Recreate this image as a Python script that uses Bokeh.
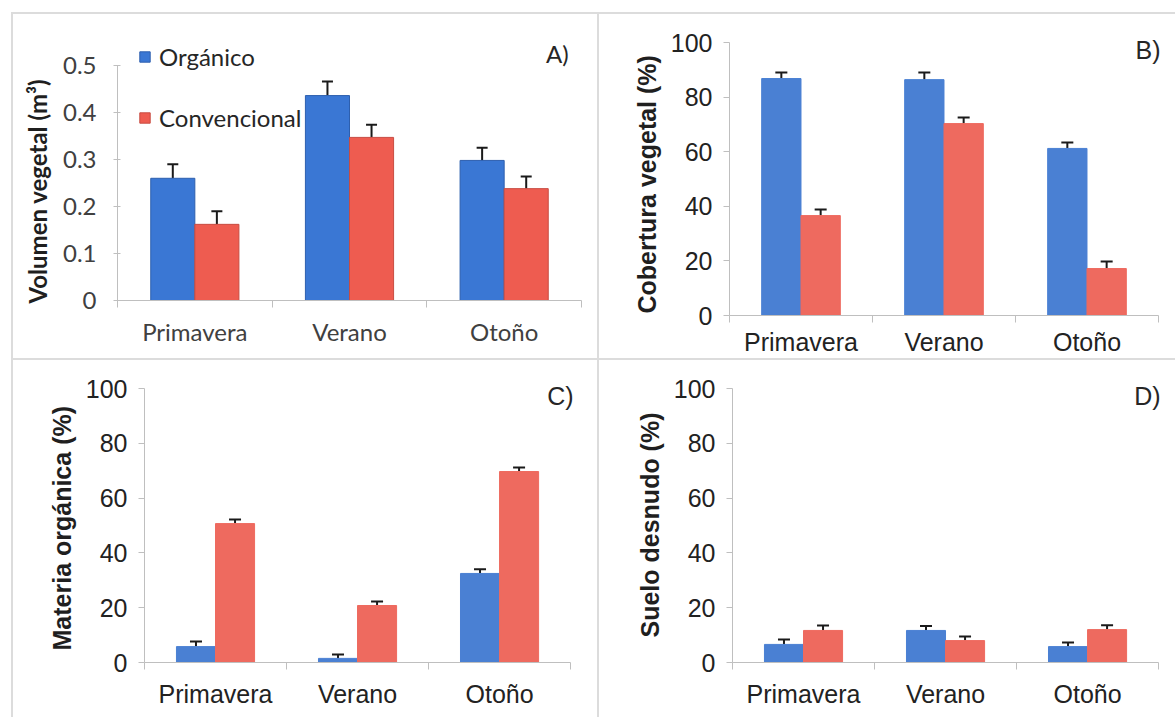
from bokeh.plotting import figure
from bokeh.models import (ColumnDataSource, Range1d, FixedTicker, CustomJSTickFormatter,
                          Whisker, TeeHead, Label, Legend, LegendItem, Spacer, Title)
from bokeh.layouts import row, column
from bokeh.embed import file_html
from bokeh.resources import INLINE

seasons = ["Primavera", "Verano", "Otoño"]
series = ["Orgánico", "Convencional"]

vol_org = [0.26, 0.436, 0.298]
vol_org_err = [0.03, 0.03, 0.027]
vol_conv = [0.162, 0.347, 0.238]
vol_conv_err = [0.028, 0.027, 0.026]

cob_org = [86.8, 86.4, 61.2]
cob_org_err = [2.2, 2.6, 2.2]
cob_conv = [36.6, 70.3, 17.2]
cob_conv_err = [2.2, 2.2, 2.6]

mat_org = [5.8, 1.5, 32.5]
mat_org_err = [1.9, 1.4, 1.5]
mat_conv = [50.7, 20.8, 69.7]
mat_conv_err = [1.5, 1.5, 1.5]

sue_org = [6.6, 11.7, 5.8]
sue_org_err = [1.8, 1.6, 1.5]
sue_conv = [11.7, 8.0, 12.0]
sue_conv_err = [1.8, 1.5, 1.6]

pct_ticks = [0, 20, 40, 60, 80, 100]
vol_ticks = [0, 0.1, 0.2, 0.3, 0.4, 0.5]

SEP = "#dcdcdc"
AXC = "#bfbfbf"


def panel(org, org_err, conv, conv_err, y_top, y_end, x_end, ticks, ylabel, letter,
          letter_xy, W, H, bl, br, bt, bb, font, fs, title_fs, barw, cols, edge, cap,
          tick_in, tick_out, lab_stand, t_off, t_stand, xl_stand, tick_color, fmt=None):
    p = figure(width=W, height=H, x_range=Range1d(0, x_end), y_range=Range1d(0, y_end),
               output_backend="svg", toolbar_location=None,
               min_border_left=bl, min_border_right=br, min_border_top=bt, min_border_bottom=bb,
               styles={"background-color": "white"})
    try:
        p.frame_align = False
    except Exception:
        pass
    p.grid.visible = False
    p.outline_line_color = None
    p.background_fill_color = "white"
    p.border_fill_color = "white"

    xs = [i + 0.5 for i in range(len(seasons))]
    xo = [x - barw / 2 for x in xs]
    xc = [x + barw / 2 for x in xs]
    r1 = p.vbar(x=xo, top=org, width=barw, bottom=0, fill_color=cols[0],
                line_color=edge[0], line_width=1)
    r2 = p.vbar(x=xc, top=conv, width=barw, bottom=0, fill_color=cols[1],
                line_color=edge[1], line_width=1)
    for xx, v, e in ((xo, org, org_err), (xc, conv, conv_err)):
        src = ColumnDataSource(dict(x=xx, lower=v, upper=[a + b for a, b in zip(v, e)]))
        p.add_layout(Whisker(source=src, base="x", lower="lower", upper="upper",
                             line_color="#1a1a1a", line_width=2, lower_head=None,
                             upper_head=TeeHead(size=cap, line_width=2, line_color="#1a1a1a")))

    xa = p.xaxis[0]
    xa.bounds = (0, len(seasons))
    xa.ticker = FixedTicker(ticks=xs, minor_ticks=list(range(len(seasons) + 1)))
    xa.major_label_overrides = {x: s for x, s in zip(xs, seasons)}
    xa.major_tick_line_color = None
    xa.major_tick_out = 0
    xa.major_tick_in = 0
    xa.minor_tick_line_color = AXC
    xa.minor_tick_out = 7
    xa.minor_tick_in = 0
    xa.axis_line_color = AXC
    xa.axis_line_width = 1
    xa.major_label_text_font = font
    xa.major_label_text_font_size = fs
    xa.major_label_text_color = tick_color
    xa.major_label_standoff = xl_stand

    ya = p.yaxis[0]
    ya.bounds = (0, y_top)
    ya.ticker = FixedTicker(ticks=ticks)
    if fmt is not None:
        ya.formatter = fmt
    ya.minor_tick_line_color = None
    ya.major_tick_line_color = AXC
    ya.major_tick_in = tick_in
    ya.major_tick_out = tick_out
    ya.axis_line_color = AXC
    ya.major_label_text_font = font
    ya.major_label_text_font_size = fs
    ya.major_label_text_color = tick_color
    ya.major_label_standoff = lab_stand

    # y-axis title, anchored near the bottom of the axis like the reference
    p.add_layout(Title(text=ylabel, align="left", offset=t_off, standoff=t_stand,
                       text_font=font, text_font_size=title_fs, text_font_style="bold",
                       text_color="#1f1f1f"), "left")

    p.add_layout(Label(x=letter_xy[0], y=letter_xy[1], text=letter, text_align="right",
                       text_baseline="alphabetic", text_font=font, text_font_size=fs,
                       text_color="#262626"))
    return p, r1, r2


BLUE_A, RED_A = "#3a77d4", "#ee5c50"
BLUE, RED = "#4a80d3", "#ee6a5f"

pA, rA1, rA2 = panel(vol_org, vol_org_err, vol_conv, vol_conv_err, 0.5, 0.5957, 3,
                     vol_ticks, "Volumen vegetal (m³)", "A)", (2.917, 0.5255),
                     584, 344, 100, 16, 6, 58, "Lato", "24px", "24px", 0.285,
                     (BLUE_A, RED_A), ("#2d5fae", "#c84c42"), 11, 3, 4, 17, -3, 15, 9,
                     "#404040",
                     fmt=CustomJSTickFormatter(code="return tick == 0 ? '0' : tick.toFixed(1);"))
legend = Legend(items=[LegendItem(label=series[0], renderers=[rA1]),
                       LegendItem(label=series[1], renderers=[rA2])],
                location=(21, 168), glyph_width=13, glyph_height=13, label_height=13,
                label_standoff=8, spacing=32, padding=0, margin=0,
                label_text_font="Lato", label_text_font_size="24px",
                label_text_color="#262626", background_fill_alpha=0,
                border_line_color=None)
pA.add_layout(legend)

pB, _, _ = panel(cob_org, cob_org_err, cob_conv, cob_conv_err, 100, 108.06, 3.07, pct_ticks,
                 "Cobertura vegetal (%)", "B)", (3.014, 97.1),
                 576, 344, 130, 7, 6, 43, "Liberation Sans", "25px", "25px", 0.275,
                 (BLUE, RED), (BLUE, RED), 12, 0, 6, 11, 2, 13, 5, "#222222")

pC, _, _ = panel(mat_org, mat_org_err, mat_conv, mat_conv_err, 100, 108.03, 3.07, pct_ticks,
                 "Materia orgánica (%)", "C)", (3.021, 97.4),
                 584, 357, 131, 17, 6, 55, "Liberation Sans", "25px", "25px", 0.275,
                 (BLUE, RED), (BLUE, RED), 12, 0, 6, 11, 12, 14, 10, "#222222")

pD, _, _ = panel(sue_org, sue_org_err, sue_conv, sue_conv_err, 100, 108.03, 3.07, pct_ticks,
                 "Suelo desnudo (%)", "D)", (3.014, 97.4),
                 576, 357, 133, 7, 6, 55, "Liberation Sans", "25px", "25px", 0.275,
                 (BLUE, RED), (BLUE, RED), 12, 0, 6, 11, 25, 14, 10, "#222222")

grid = column(
    Spacer(height=2, width=1164),
    row(Spacer(width=2, height=344), pA, Spacer(width=2, height=344), pB),
    Spacer(height=2, width=1164),
    row(Spacer(width=2, height=357), pC, Spacer(width=2, height=357), pD),
    styles={"background-color": SEP},
)
page = column(Spacer(height=12, width=1), row(Spacer(width=11, height=1), grid))
open("out.html", "w").write(file_html(page, INLINE))
